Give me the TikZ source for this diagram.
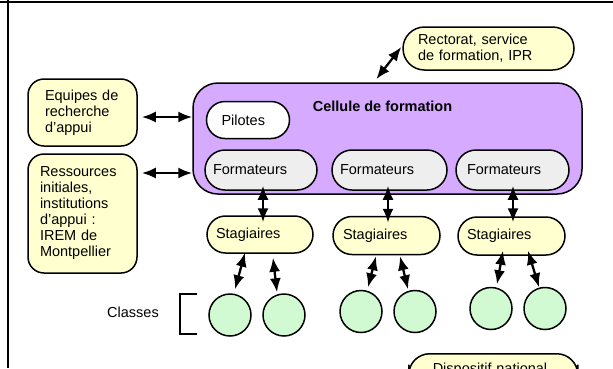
\documentclass[tikz,border=0pt]{standalone}
\usepackage{fontspec}
\setmainfont{Liberation Sans}
\usetikzlibrary{arrows.meta,calc}
\definecolor{cream}{RGB}{255,255,208}
\definecolor{lav}{RGB}{214,170,255}
\definecolor{pgray}{RGB}{238,238,238}
\definecolor{pgreen}{RGB}{210,250,210}
\begin{document}
\begin{tikzpicture}[x=1pt,y=-1pt,
  font=\fontsize{14.5}{16}\selectfont,
  boxbase/.style={draw, line width=1.5pt, align=left, inner ysep=0pt},
  yel/.style={boxbase, fill=cream},
  cls/.style={draw, line width=1.5pt, fill=pgreen, circle, minimum size=42pt, inner sep=0pt},
  biarr/.style={{Latex[length=14pt,width=11pt]}-{Latex[length=14pt,width=11pt]}, line width=2.3pt},
  frameline/.style={line width=2.8pt}
]
\useasboundingbox (0,0) rectangle (613,368);
\clip (0,0) rectangle (613,368);

% frame
\draw[frameline] (0,2) -- (613,2);
\draw[frameline] (8,0) -- (8,368);

% left boxes
\node[yel, rounded corners=16pt, minimum height=67pt, text width=75pt, inner xsep=17pt] (eq) at (82.5,112.5) {Equipes de\\recherche\\d’appui};
\node[yel, rounded corners=16pt, minimum height=119pt, text width=85pt, inner xsep=12pt] (res) at (82.5,213.5) {Ressources\\initiales,\\institutions\\d’appui :\\IREM de\\Montpellier};

% cellule
\node[boxbase, fill=lav, rounded corners=25pt, minimum width=389pt, minimum height=111pt] (cell) at (387.5,138.5) {};
\node[font=\fontsize{14.5}{16}\selectfont\bfseries] (celltitle) at (382.5,106) {Cellule de formation};

\node[yel, rounded corners=21.5pt, minimum height=43pt, text width=141pt, inner xsep=15pt] (rect) at (488.5,48.5) {Rectorat, service\\de formation, IPR};

\node[boxbase, fill=white, rounded corners=18.5pt, minimum height=37pt, text width=53pt, inner xsep=15pt] (pil) at (248,120) {Pilotes};

\node[boxbase, fill=pgray, rounded corners=20pt, minimum height=40pt, text width=96pt, inner xsep=8pt] (f1) at (261,170) {Formateurs};
\node[boxbase, fill=pgray, rounded corners=20pt, minimum height=40pt, text width=99pt, inner xsep=8pt] (f2) at (389.5,170) {Formateurs};
\node[boxbase, fill=pgray, rounded corners=20pt, minimum height=40pt, text width=91pt, inner xsep=11pt] (f3) at (512.5,170) {Formateurs};

\node[yel, rounded corners=18.5pt, minimum height=37pt, text width=88pt, inner xsep=9pt] (s1) at (260,234.5) {Stagiaires};
\node[yel, rounded corners=19pt, minimum height=38pt, text width=87pt, inner xsep=10pt] (s2) at (386.5,235.5) {Stagiaires};
\node[yel, rounded corners=19pt, minimum height=38pt, text width=89pt, inner xsep=9pt] (s3) at (511.5,236) {Stagiaires};

% classes
\node[cls] (c11) at (230,315) {};
\node[cls] (c12) at (284,315) {};
\node[cls] (c21) at (361,311.5) {};
\node[cls] (c22) at (415,311.5) {};
\node[cls] (c31) at (491,308.5) {};
\node[cls] (c32) at (545,308.5) {};

\node (classes) at (133,312) {Classes};
\draw[line width=1.2pt] ($(classes)+(64,-18)$) -- ($(classes)+(47,-18)$) -- ($(classes)+(47,22)$) -- ($(classes)+(64,22)$);

% dispositif national (cut off at the lower edge, as in the reference)
\node[yel, rounded corners=21pt, minimum height=32pt, text width=121pt, inner xsep=24pt, anchor=north west] (disp) at (408,353) {Dispositif national};

% connectors
\draw[biarr, shorten <=4pt] ([yshift=-4.5pt]eq.east) -- ([yshift=-4.5pt]eq.east -| cell.west);
\draw[biarr, shorten <=4pt] ([yshift=40.5pt]res.east) -- ([yshift=40.5pt]res.east -| cell.west);
\draw[biarr] ($(rect.west)+(-1,-1.5)$) -- ($(cell.north west)+(184,-3)$);

\draw[biarr] ($(f1.south)+(2,-5)$) -- ($(s1.north)+(3,7)$);
\draw[biarr] ($(f2.south)+(-1.5,-5)$) -- ($(s2.north)+(1.5,7)$);
\draw[biarr] ($(f3.south)+(0.5,-5)$) -- ($(s3.north)+(1.5,6)$);

\draw[biarr] ($(s1.south)+(-15,-1)$) -- ($(c11.north)+(5,-4)$);
\draw[biarr] ($(s1.south)+(13,4)$) -- ($(c12.north)+(-7,-1)$);
\draw[biarr] ($(s2.south)+(-10.5,1)$) -- ($(c21.north)+(7,-2.5)$);
\draw[biarr] ($(s2.south)+(13.5,1)$) -- ($(c22.north)+(-7,-0.5)$);
\draw[biarr] ($(s3.south)+(-8.5,-5)$) -- ($(c31.north)+(6,-2.5)$);
\draw[biarr] ($(s3.south)+(16.5,-5)$) -- ($(c32.north)+(-6,0.5)$);
\end{tikzpicture}
\end{document}
